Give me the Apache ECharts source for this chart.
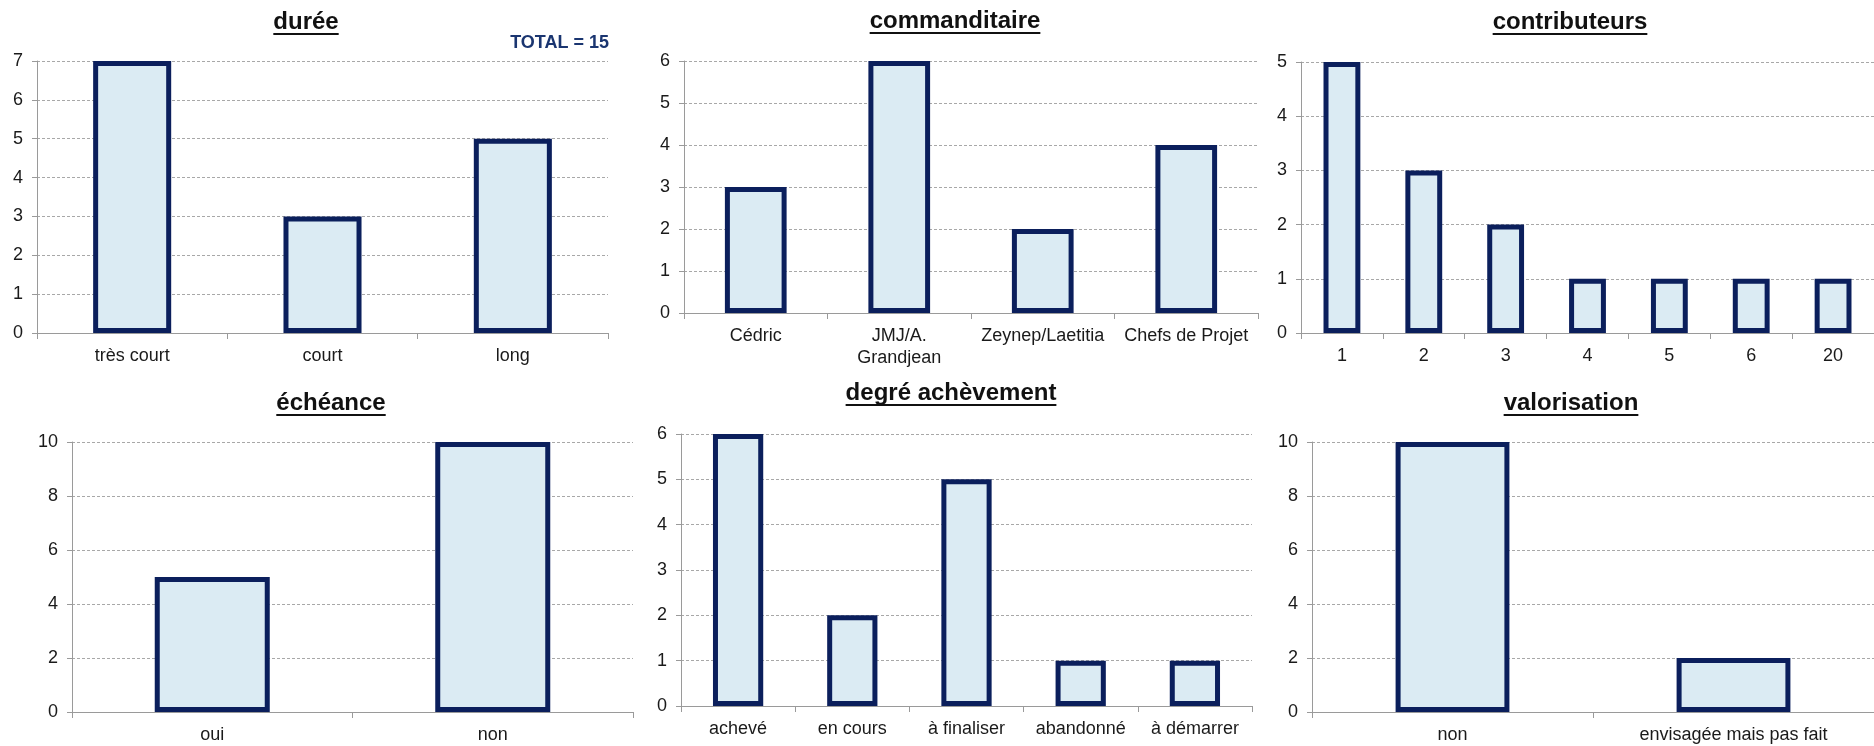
<!DOCTYPE html>
<html><head><meta charset="utf-8">
<script src="https://cdn.jsdelivr.net/npm/echarts@6/dist/echarts.min.js"></script>
<style>html,body{margin:0;padding:0;background:#fff}#c{width:1874px;height:746px}</style>
</head><body><div id="c"></div>
<script>
// ---- data ----
const titles = ['durée','commanditaire','contributeurs','échéance','degré achèvement','valorisation'];
const dureeCats = ['très court','court','long'];
const dureeVals = [7,3,5];
const commCats = ['Cédric','JMJ/A.\nGrandjean','Zeynep/Laetitia','Chefs de Projet'];
const commVals = [3,6,2,4];
const contribCats = ['1','2','3','4','5','6','20'];
const contribVals = [5,3,2,1,1,1,1];
const echeanceCats = ['oui','non'];
const echeanceVals = [5,10];
const degreCats = ['achevé','en cours','à finaliser','abandonné','à démarrer'];
const degreVals = [6,2,5,1,1];
const valoCats = ['non','envisagée mais pas fait'];
const valoVals = [10,2];
const yMax = [7,6,5,10,6,10];
const yStep = [1,1,1,2,1,2];
const totalLabel = 'TOTAL = 15';

const cats = [dureeCats,commCats,contribCats,echeanceCats,degreCats,valoCats];
const vals = [dureeVals,commVals,contribVals,echeanceVals,degreVals,valoVals];

// ---- layout ----
const grids = [
  {left:37, top:61, width:571, height:272},
  {left:684, top:61, width:574, height:252},
  {left:1301, top:62, width:573, height:271},
  {left:72, top:442, width:561, height:275},
  {left:681, top:434, width:571, height:272},
  {left:1312, top:442, width:562, height:275}
];
const barWidths = ['41%','43%','45%','41%','44%','40.5%'];
const titlePos = [[306,22],[955,21],[1570,22],[331,403],[951,393],[1571,403]];

const FONT = '"Liberation Sans", Arial, sans-serif';
const TITLE_SIZE = 24;
const NAVY = '#0b1f5c';
const FILL = '#dbebf3';

const cv = document.createElement('canvas').getContext('2d');
cv.font = 'bold ' + TITLE_SIZE + 'px "Liberation Sans"';

const graphic = [];
titles.forEach((t,i)=>{
  const [x,y] = titlePos[i];
  const w = cv.measureText(t).width;
  graphic.push({type:'text', x:x, y:y, style:{text:t, font:'bold '+TITLE_SIZE+'px '+FONT, fill:'#111', align:'center', verticalAlign:'middle'}});
  graphic.push({type:'rect', shape:{x:x-w/2, y:y+11, width:w, height:2}, style:{fill:'#111'}});
});
graphic.push({type:'text', x:609, y:43, style:{text:totalLabel, font:'bold 18px '+FONT, fill:'#1a3570', align:'right', verticalAlign:'middle'}});

const option = {
  animation:false,
  backgroundColor:'#fff',
  graphic: graphic,
  grid: grids.map(g=>Object.assign({containLabel:false}, g)),
  xAxis: cats.map((c,i)=>({
    type:'category', gridIndex:i, data:c,
    axisLine:{show:true, lineStyle:{color:'#9a9a9a', width:1}},
    axisTick:{show:true, length:6, lineStyle:{color:'#9a9a9a'}},
    axisLabel:{color:'#1a1a1a', fontSize:18, fontFamily:FONT, margin:12, interval:0, lineHeight:22},
    splitLine:{show:false}
  })),
  yAxis: yMax.map((m,i)=>({
    type:'value', gridIndex:i, min:0, max:m, interval:yStep[i],
    axisLine:{show:true, lineStyle:{color:'#9a9a9a', width:1}},
    axisTick:{show:true, length:5, lineStyle:{color:'#9a9a9a'}},
    axisLabel:{color:'#1a1a1a', fontSize:18, fontFamily:FONT, margin:14},
    splitLine:{show:true, lineStyle:{color:'#a8a8a8', type:[3,2], width:1}}
  })),
  series: vals.map((v,i)=>({
    type:'bar', xAxisIndex:i, yAxisIndex:i, data:v,
    barWidth: barWidths[i],
    itemStyle:{color:FILL, borderColor:NAVY, borderWidth:5}
  }))
};
echarts.init(document.getElementById('c')).setOption(option);
</script></body></html>
